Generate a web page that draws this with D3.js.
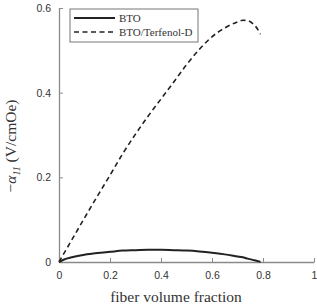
<html>
<script src="https://d3js.org/d3.v7.min.js"></script>
<body style="margin:0;background:#fff">
<svg id="plot"></svg>
<script>

// fiber volume fraction vs -alpha11
var fraction = [0, 0.02, 0.05, 0.1, 0.15, 0.2, 0.25, 0.3, 0.35, 0.4, 0.45, 0.5, 0.55, 0.6, 0.65, 0.7, 0.72, 0.74, 0.76, 0.78, 0.79];
var bto      = [0, 0.006, 0.011, 0.017, 0.021, 0.024, 0.027, 0.028, 0.029, 0.029, 0.028, 0.027, 0.025, 0.022, 0.018, 0.013, 0.011, 0.008, 0.005, 0.002, 0];
var btoTerf  = [0, 0.021, 0.052, 0.104, 0.155, 0.205, 0.256, 0.302, 0.345, 0.385, 0.425, 0.466, 0.502, 0.532, 0.553, 0.567, 0.571, 0.570, 0.563, 0.549, 0.538];
var xTicks = [0, 0.2, 0.4, 0.6, 0.8, 1];
var yTicks = [0, 0.2, 0.4, 0.6];
var seriesNames = ["BTO", "BTO/Terfenol-D"];

var screen = {width:317, height:306};
var margins = {top:8, bottom:44, left:59, right:3};
var graph = {
    width: screen.width - margins.left - margins.right,
    height: screen.height - margins.top - margins.bottom
};

var svg = d3.select("#plot")
    .attr("width", screen.width)
    .attr("height", screen.height);

var xScale = d3.scaleLinear().domain([0,1]).range([0, graph.width]);
var yScale = d3.scaleLinear().domain([0,0.6]).range([graph.height, 0]);

var g = svg.append("g")
    .attr("transform", "translate(" + margins.left + "," + margins.top + ")");

// axes, ticks inward
var xAxis = d3.axisBottom(xScale).tickValues(xTicks).tickSizeInner(-4).tickSizeOuter(0)
    .tickFormat(function(d) { return d; }).tickPadding(10);
var yAxis = d3.axisLeft(yScale).tickValues(yTicks).tickSizeInner(-4).tickSizeOuter(0)
    .tickFormat(function(d) { return d; }).tickPadding(8);

var axisColor = "#8a8a8a";
var gx = g.append("g").attr("transform", "translate(0," + graph.height + ")").call(xAxis);
var gy = g.append("g").call(yAxis);
[gx, gy].forEach(function(a) {
    a.select(".domain").attr("stroke", axisColor).attr("stroke-width", 1.3);
    a.selectAll(".tick line").attr("stroke", axisColor);
    a.selectAll("text").attr("fill", "#333").style("font-family", "Liberation Sans, Arial, sans-serif").style("font-size", "10.5px");
});

// lines
var pts = function(vals) { return fraction.map(function(f, i) { return [f, vals[i]]; }); };
var line = d3.line()
    .x(function(d) { return xScale(d[0]); })
    .y(function(d) { return yScale(d[1]); })
    .curve(d3.curveMonotoneX);

g.append("path").datum(pts(bto))
    .attr("d", line).attr("fill", "none").attr("stroke", "#222").attr("stroke-width", 2);
g.append("path").datum(pts(btoTerf))
    .attr("d", line).attr("fill", "none").attr("stroke", "#222").attr("stroke-width", 1.6)
    .attr("stroke-dasharray", "5,3.5");

// legend
var legend = svg.append("g").attr("transform", "translate(70,9)");
legend.append("rect").attr("width", 128).attr("height", 33)
    .attr("fill", "#fff").attr("stroke", "#777").attr("stroke-width", 1);
seriesNames.forEach(function(name, i) {
    var y = 9 + i * 14;
    legend.append("line").attr("x1", 4).attr("x2", 45).attr("y1", y).attr("y2", y)
        .attr("stroke", "#222").attr("stroke-width", i == 0 ? 2 : 1.6)
        .attr("stroke-dasharray", i == 0 ? null : "5,3.5");
    legend.append("text").text(name).attr("x", 49).attr("y", y + 4)
        .style("font-family", "Liberation Serif, Times New Roman, serif").style("font-size", "11px").attr("fill", "#333");
});

// labels
svg.append("text").text("fiber volume fraction")
    .attr("text-anchor", "middle")
    .attr("x", 176)
    .attr("y", 302)
    .style("font-family", "Liberation Serif, Times New Roman, serif").style("font-size", "15.5px").attr("fill", "#333");

var yl = svg.append("text")
    .attr("text-anchor", "middle")
    .attr("transform", "translate(16,146) rotate(-90)")
    .style("font-family", "Liberation Serif, Times New Roman, serif").style("font-size", "15.5px").attr("fill", "#333");
yl.append("tspan").text("\u2212");
yl.append("tspan").text("\u03b1").style("font-style", "italic");
yl.append("tspan").text("11").style("font-style", "italic").style("font-size", "10px").attr("dy", 4);
yl.append("tspan").text("  (V/cmOe)").attr("dy", -4);

</script>
</body>
</html>
